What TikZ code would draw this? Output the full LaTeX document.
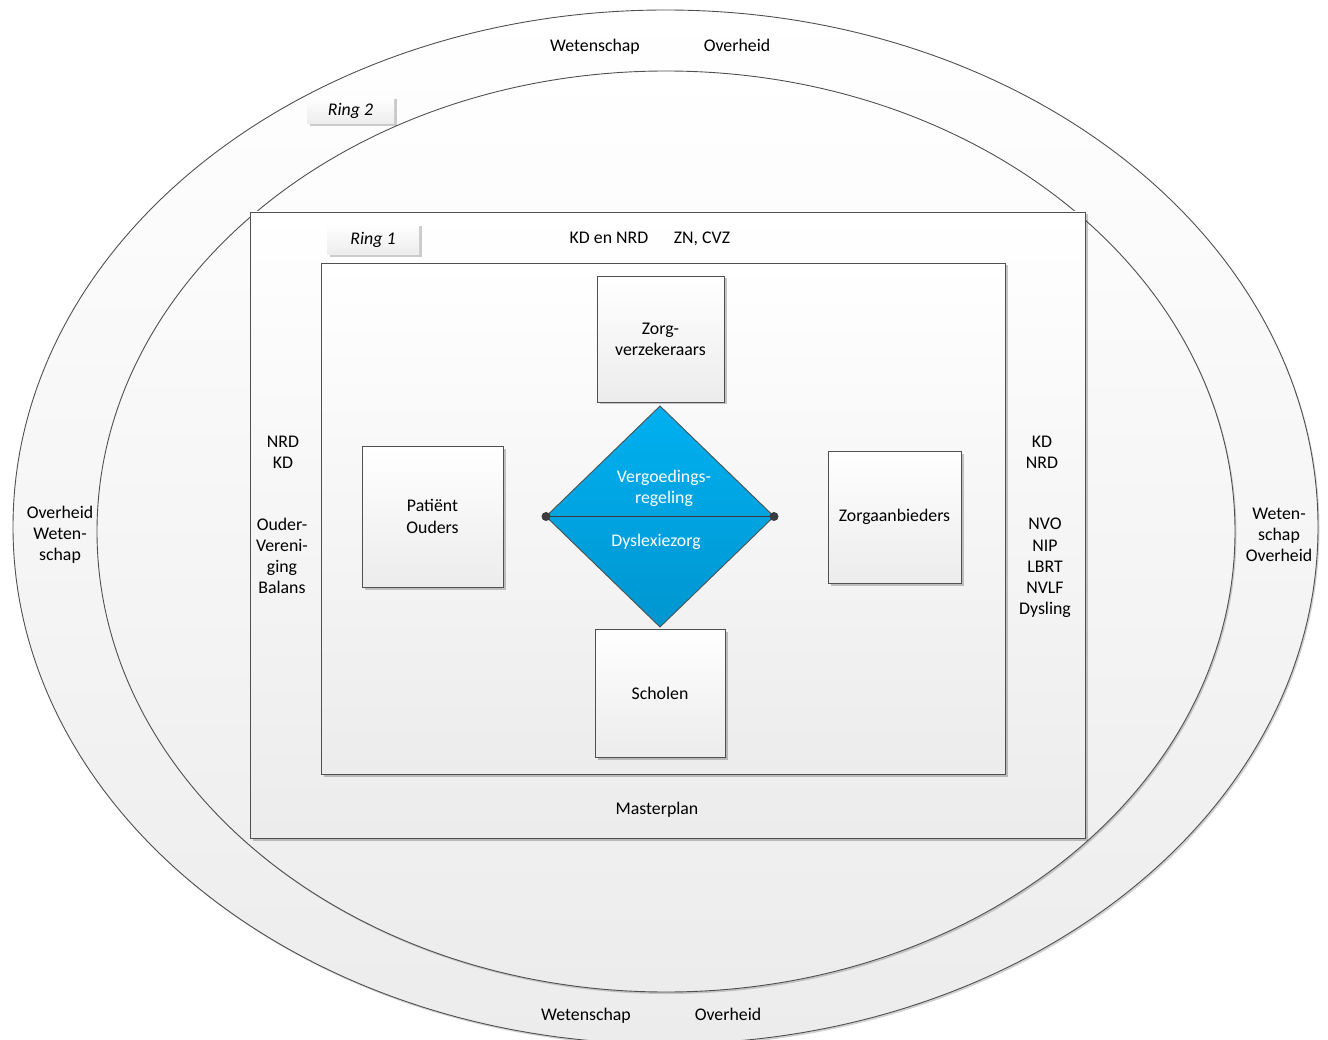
\documentclass[tikz,border=0pt]{standalone}
\usepackage{fontspec}
\setmainfont{Carlito}
\usetikzlibrary{shapes.geometric,shadows}
\definecolor{edge}{RGB}{80,80,80}
\definecolor{boxlow}{RGB}{236,236,236}
\definecolor{diatop}{RGB}{0,176,240}
\definecolor{diabot}{RGB}{0,150,208}
\definecolor{dotc}{RGB}{60,60,60}
\begin{document}
\begin{tikzpicture}[x=1pt,y=-1pt,
  every node/.style={font=\fontsize{17.8}{21.2}\selectfont, inner sep=0pt, outer sep=0pt},
  ring/.style={ellipse, draw=edge, line width=0.9pt, top color=white, bottom color=boxlow,
     drop shadow={shadow xshift=1.5pt, shadow yshift=-2pt, fill=black, opacity=0.18}},
  boxed/.style={rectangle, draw=edge, line width=0.9pt, top color=white, bottom color=boxlow,
     drop shadow={shadow xshift=2.5pt, shadow yshift=-2.5pt, fill=black, opacity=0.22}},
  tag/.style={rectangle, top color=white, bottom color=boxlow, font=\fontsize{17.8}{21.2}\selectfont\itshape,
     drop shadow={shadow xshift=2.5pt, shadow yshift=-2.5pt, fill=black, opacity=0.2}},
  lbl/.style={align=center},
  single/.style={text height=12.5pt, text depth=4pt},
  dialbl/.style={align=center, text=white}
]
\useasboundingbox (0,0) rectangle (1328,1040);
\fill[white] (0,0) rectangle (1328,1040);

% rings
\node[ring, minimum width=1305pt, minimum height=1034pt] (ring3) at (665.5,527) {};
\node[ring, minimum width=1138pt, minimum height=921pt] (ring2) at (666,531.5) {};

% ring 1 rectangle and core rectangle
\node[boxed, minimum width=835pt, minimum height=626pt] (ring1) at (667.5,525) {};
\node[boxed, minimum width=684pt, minimum height=511pt] (core) at (663,518.5) {};

% labels of rings
\node[tag, minimum width=87pt, minimum height=27pt] (tag2) at (350.5,110.5) {Ring 2};
\node[tag, minimum width=92pt, minimum height=31pt] (tag1) at (373,239.5) {Ring 1};

% actors
\node[boxed, lbl, minimum width=127pt, minimum height=126pt] (zv) at (660.5,339) {Zorg-\\verzekeraars};
\node[boxed, lbl, minimum width=141pt, minimum height=141pt] (po) at (432.5,516.5) {Patiënt\\Ouders};
\node[boxed, lbl, minimum width=133pt, minimum height=132pt] (za) at (894.5,517) {Zorgaanbieders};
\node[boxed, lbl, minimum width=130pt, minimum height=128pt] (sc) at (660,693) {Scholen};

% diamond
\node[diamond, draw=edge, line width=0.9pt, top color=diatop, bottom color=diabot,
      minimum width=228pt, minimum height=221pt] (dia) at (660,516.5) {};
\draw[dotc, line width=1.4pt] (dia.west) -- (dia.east);
\fill[dotc] (dia.west) circle (4.5pt);
\fill[dotc] (dia.east) circle (4.5pt);
\node[dialbl] (dt1) at (664,488) {Vergoedings-\\regeling};
\node[dialbl] (dt2) at (656,542) {Dyslexiezorg};

% texts
\node[lbl, single] (o1) at (595,47) {Wetenschap};
\node[lbl, single] (o2) at (737,47) {Overheid};
\node[lbl, single] (o3) at (586,1016) {Wetenschap};
\node[lbl, single] (o4) at (728,1016) {Overheid};
\node[lbl] (o5) at (60,535) {Overheid\\Weten-\\schap};
\node[lbl] (o6) at (1279,535) {Weten-\\schap\\Overheid};

\node[lbl, single] (r1) at (609,239) {KD en NRD};
\node[lbl, single] (r2) at (702,239) {ZN, CVZ};
\node[lbl] (r3) at (283,452.5) {NRD\\KD};
\node[lbl] (r4) at (282,556) {Ouder-\\Vereni-\\ging\\Balans};
\node[lbl] (r5) at (1042,452.5) {KD\\NRD};
\node[lbl] (r6) at (1045,568) {NVO\\NIP\\LBRT\\NVLF\\Dysling};
\node[lbl, single] (r7) at (657,810) {Masterplan};
\end{tikzpicture}
\end{document}
